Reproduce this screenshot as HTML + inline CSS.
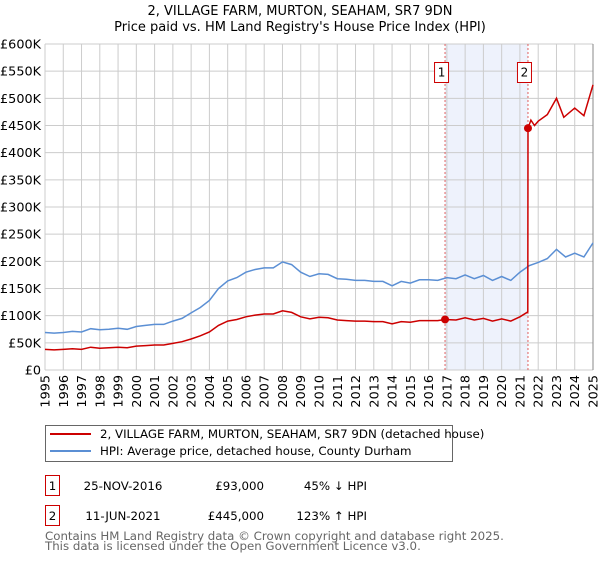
<!DOCTYPE html>
<html><head><meta charset="utf-8"><style>
body{margin:0;background:#fff;font-family:"DejaVu Sans","Liberation Sans",sans-serif;}
svg text{font-family:"DejaVu Sans","Liberation Sans",sans-serif;}
</style></head><body>
<svg id="chart" width="600" height="560" xmlns="http://www.w3.org/2000/svg">
<text x="300" y="15" text-anchor="middle" font-size="13">2, VILLAGE FARM, MURTON, SEAHAM, SR7 9DN</text>
<text x="300" y="31" text-anchor="middle" font-size="13">Price paid vs. HM Land Registry's House Price Index (HPI)</text>
<g id="grid"></g><g id="series"></g><g id="axes"></g>
<g>
<rect x="45.5" y="425.5" width="407" height="36" fill="#fff" stroke="#666"/>
<line x1="50" y1="434" x2="91" y2="434" stroke="#cc0000" stroke-width="2"/>
<text x="100" y="438" font-size="11.8">2, VILLAGE FARM, MURTON, SEAHAM, SR7 9DN (detached house)</text>
<line x1="50" y1="451" x2="91" y2="451" stroke="#5b8fd4" stroke-width="2"/>
<text x="100" y="455" font-size="11.8">HPI: Average price, detached house, County Durham</text>
</g>
<g font-size="11.8">
<rect x="45.5" y="475.5" width="14" height="20" fill="#fff" stroke="#cc0000"/>
<text x="52.5" y="490" text-anchor="middle">1</text>
<text x="123" y="490" text-anchor="middle">25-NOV-2016</text>
<text x="264" y="490" text-anchor="end">£93,000</text>
<text x="367" y="490" text-anchor="end">45% ↓ HPI</text>
</g>
<g font-size="11.8">
<rect x="45.5" y="505.5" width="14" height="20" fill="#fff" stroke="#cc0000"/>
<text x="52.5" y="520" text-anchor="middle">2</text>
<text x="123" y="520" text-anchor="middle">11-JUN-2021</text>
<text x="264" y="520" text-anchor="end">£445,000</text>
<text x="367" y="520" text-anchor="end">123% ↑ HPI</text>
</g>
<text x="45" y="540" font-size="11.8" fill="#666">Contains HM Land Registry data © Crown copyright and database right 2025.</text>
<text x="45" y="550" font-size="11.8" fill="#666">This data is licensed under the Open Government Licence v3.0.</text>
</svg>
<script>
const hpiYears=[1995,1995.5,1996,1996.5,1997,1997.5,1998,1998.5,1999,1999.5,2000,2000.5,2001,2001.5,2002,2002.5,2003,2003.5,2004,2004.5,2005,2005.5,2006,2006.5,2007,2007.5,2008,2008.5,2009,2009.5,2010,2010.5,2011,2011.5,2012,2012.5,2013,2013.5,2014,2014.5,2015,2015.5,2016,2016.5,2017,2017.5,2018,2018.5,2019,2019.5,2020,2020.5,2021,2021.5,2022,2022.5,2023,2023.5,2024,2024.5,2025];
const hpiValues=[69,68,69,71,70,76,74,75,77,75,80,82,84,84,90,95,105,115,128,150,164,170,180,185,188,188,199,194,180,172,177,176,168,167,165,165,163,163,155,163,160,166,166,165,170,168,175,168,174,165,172,165,180,192,198,205,222,208,215,208,234];
const priceYears=[1995,1995.5,1996,1996.5,1997,1997.5,1998,1998.5,1999,1999.5,2000,2000.5,2001,2001.5,2002,2002.5,2003,2003.5,2004,2004.5,2005,2005.5,2006,2006.5,2007,2007.5,2008,2008.5,2009,2009.5,2010,2010.5,2011,2011.5,2012,2012.5,2013,2013.5,2014,2014.5,2015,2015.5,2016,2016.5,2016.9,2017.5,2018,2018.5,2019,2019.5,2020,2020.5,2021,2021.43,2021.44,2021.6,2021.8,2022,2022.5,2023,2023.4,2024,2024.5,2025];
const priceValues=[38,37,38,39,38,42,40,41,42,41,44,45,46,46,49,52,57,63,70,82,90,93,98,101,103,103,109,106,98,94,97,96,92,91,90,90,89,89,85,89,88,91,91,91,93,92,96,92,95,90,94,90,98,107,445,460,450,458,470,500,465,482,468,525];
const saleYears=[2016.9,2021.44];
const saleValues=[93,445];
const saleLabels=["1","2"];
const yTicks=[0,50,100,150,200,250,300,350,400,450,500,550,600];
const yTickLabels=["£0","£50K","£100K","£150K","£200K","£250K","£300K","£350K","£400K","£450K","£500K","£550K","£600K"];
const xTicks=[1995,1996,1997,1998,1999,2000,2001,2002,2003,2004,2005,2006,2007,2008,2009,2010,2011,2012,2013,2014,2015,2016,2017,2018,2019,2020,2021,2022,2023,2024,2025];

const NS="http://www.w3.org/2000/svg";
const X0=45,X1=593,Y0=370,Y1=44;
const xs=y=>X0+(y-1995)/30*(X1-X0);
const ys=v=>Y0-v/600*(Y0-Y1);
function mk(tag,attrs,parent){const e=document.createElementNS(NS,tag);for(const k in attrs)e.setAttribute(k,attrs[k]);parent.appendChild(e);return e;}
const grid=document.getElementById('grid'),series=document.getElementById('series'),axes=document.getElementById('axes');
let sh=mk('rect',{x:xs(saleYears[0]),y:Y1,width:xs(saleYears[1])-xs(saleYears[0]),height:Y0-Y1,fill:'#eef2fc'},grid);


yTicks.forEach((t,i)=>{
  let l=mk('line',{x1:X0,x2:X1,y1:ys(t),y2:ys(t),stroke:'#cccccc'},grid);
  
  
  let tx=mk('text',{x:X0-4,y:ys(t)+4.5,'text-anchor':'end','font-size':'12.8'},axes);
  tx.textContent=yTickLabels[i];
  
  
});
xTicks.forEach(t=>{
  let l=mk('line',{x1:xs(t),x2:xs(t),y1:Y1,y2:Y0,stroke:'#cccccc'},grid);
  
  
  let tx=mk('text',{x:0,y:0,'font-size':'12.8','text-anchor':'end',transform:`translate(${xs(t)+4.5},${Y0+5}) rotate(-90)`},axes);
  tx.textContent=t;
  
  
});
let rb=mk('line',{x1:X1,x2:X1,y1:Y1,y2:Y0,stroke:'#888'},grid);


saleYears.forEach((s,i)=>{
  let l=mk('line',{x1:xs(s),x2:xs(s),y1:Y1,y2:Y0,stroke:'#e06060','stroke-dasharray':'2,2'},grid);
  
  
});
function path(xa,va){return xa.map((x,i)=>(i?'L':'M')+xs(x).toFixed(1)+','+ys(va[i]).toFixed(1)).join('');}
let hp=mk('path',{d:path(hpiYears,hpiValues),fill:'none',stroke:'#5b8fd4','stroke-width':'1.5'},series);


let pp=mk('path',{d:path(priceYears,priceValues),fill:'none',stroke:'#cc0000','stroke-width':'1.5'},series);


saleYears.forEach((s,i)=>{
  let c=mk('circle',{cx:xs(s),cy:ys(saleValues[i]),r:4,fill:'#cc0000'},series);
  
  
  let g=mk('g',{},series);
  
  
  mk('rect',{x:xs(s)-10.5,y:62.5,width:14,height:20,fill:'#fff',stroke:'#cc0000'},g);
  let t=mk('text',{x:xs(s)-3.5,y:76.5,'text-anchor':'middle','font-size':'12'},g);
  t.textContent=saleLabels[i];
});
</script>
</body></html>
